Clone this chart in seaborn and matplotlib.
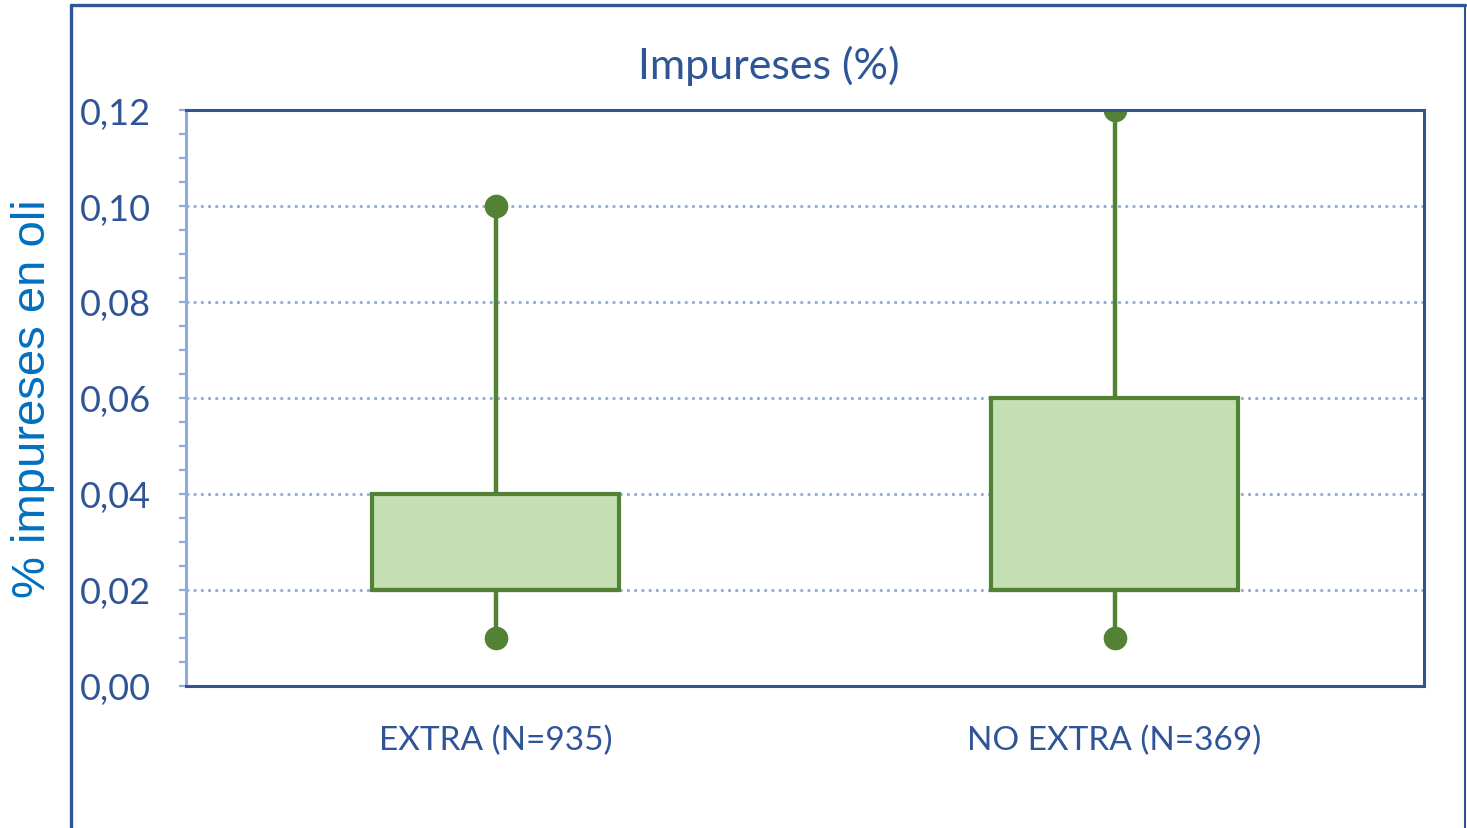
"""
Box plot of oil impurities, EXTRA vs NO EXTRA.
"""

import matplotlib
matplotlib.use("Agg")
import matplotlib.pyplot as plt
from matplotlib.lines import Line2D
from matplotlib.ticker import FuncFormatter, MultipleLocator
import pandas as pd
import seaborn as sns


# five-number summaries
categories = ["EXTRA (N=935)", "NO EXTRA (N=369)"]
mins = [0.01, 0.01]
q1s = [0.02, 0.02]
medians = [0.02, 0.02]
q3s = [0.04, 0.06]
maxs = [0.10, 0.12]

title = "Impureses (%)"
ylabel = "% impureses en oli"

DARK_BLUE = "#2f5597"
LIGHT_BLUE = "#8faadc"
LABEL_BLUE = "#0070c0"
BOX_FACE = "#c5e0b4"
BOX_EDGE = "#548235"


def build_frame():
    """One row per summary value so whis=(0, 100) reproduces the box."""
    rows = []
    for i, cat in enumerate(categories):
        for v in (mins[i], q1s[i], medians[i], q3s[i], maxs[i]):
            rows.append({"group": cat, "value": v})
    return pd.DataFrame(rows)


def main():
    sns.set_style("white")
    plt.rcParams["font.family"] = ["Lato", "DejaVu Sans"]

    df = build_frame()
    ends = pd.DataFrame({
        "group": categories + categories,
        "value": mins + maxs,
    })

    fig = plt.figure(figsize=(14.67, 8.29), dpi=100)
    ax = fig.add_axes([0.1268, 0.1713, 0.8439, 0.6948])

    sns.boxplot(
        data=df, x="group", y="value", order=categories, ax=ax,
        whis=(0, 100), width=0.4, color=BOX_FACE, linecolor=BOX_EDGE,
        linewidth=3, fliersize=0,
        boxprops={"facecolor": BOX_FACE, "edgecolor": BOX_EDGE, "linewidth": 3, "zorder": 2},
        whiskerprops={"color": BOX_EDGE, "linewidth": 3.2},
        medianprops={"color": BOX_EDGE, "linewidth": 3},
        capprops={"linewidth": 0},
    )
    sns.scatterplot(
        data=ends, x="group", y="value", ax=ax, color=BOX_EDGE,
        s=290, linewidth=0, zorder=3, legend=False,
    )

    ax.set_xlim(-0.5, 1.5)
    ax.set_ylim(0, 0.12)
    ax.yaxis.set_major_locator(MultipleLocator(0.02))
    ax.yaxis.set_minor_locator(MultipleLocator(0.005))
    ax.yaxis.set_major_formatter(FuncFormatter(lambda v, _: f"{v:.2f}".replace(".", ",")))

    ax.grid(axis="y", which="major", color=LIGHT_BLUE, linestyle=(0, (1, 1.6)), linewidth=2)
    ax.set_axisbelow(True)

    for side in ["top", "right", "bottom"]:
        ax.spines[side].set_color(DARK_BLUE)
        ax.spines[side].set_linewidth(2.2)
    ax.spines["left"].set_color(LIGHT_BLUE)
    ax.spines["left"].set_linewidth(2.2)
    for sp in ax.spines.values():
        sp.set_zorder(5)

    ax.tick_params(axis="y", which="both", left=True, direction="out", length=5, width=1.6,
                   color=LIGHT_BLUE, labelcolor=DARK_BLUE, labelsize=26, pad=20)
    ax.tick_params(axis="x", bottom=False, length=0, labelcolor=DARK_BLUE, labelsize=24, pad=28)
    ax.set_xlabel("")
    ax.set_ylabel("")

    fig.text(0.524, 0.920, title, ha="center", va="center", fontsize=31, color=DARK_BLUE)
    fig.text(0.0225, 0.5187, ylabel, ha="center", va="center", rotation=90,
             fontsize=34, color=LABEL_BLUE, family=["Liberation Sans", "DejaVu Sans"])

    # outer chart frame (bottom edge falls outside the image)
    x0, x1, y1 = 71 / 1467, 1465 / 1467, 1 - 6 / 829
    fig.add_artist(Line2D([x0, x0], [-0.01, y1], color=DARK_BLUE, linewidth=2.4))
    fig.add_artist(Line2D([x0, x1], [y1, y1], color=DARK_BLUE, linewidth=2.4))
    fig.add_artist(Line2D([x1, x1], [-0.01, y1], color=DARK_BLUE, linewidth=1.5))

    fig.savefig("out.png", dpi=100)
    plt.close(fig)


if __name__ == "__main__":
    main()
